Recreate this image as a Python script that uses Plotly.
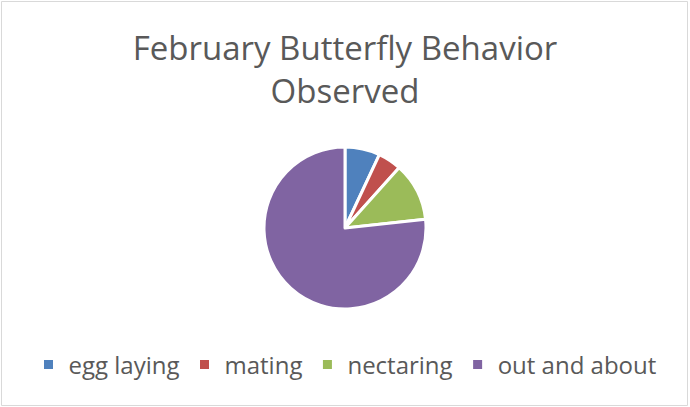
import plotly.graph_objects as go

# counts
behaviors = ["egg laying", "mating", "nectaring", "out and about"]
counts = [3, 2, 5, 33]
colors = ["#4F81BD", "#C0504D", "#9BBB59", "#8064A2"]

W, H = 690, 407

fig = go.Figure()
fig.add_trace(go.Pie(
    labels=behaviors,
    values=counts,
    sort=False,
    direction="clockwise",
    rotation=0,
    textinfo="none",
    hoverinfo="label+value+percent",
    marker=dict(colors=colors, line=dict(color="white", width=3)),
    domain=dict(x=[0, 1], y=[1 - 309 / H, 1 - 147 / H]),
))

fig.update_layout(
    width=W,
    height=H,
    margin=dict(l=0, r=0, t=0, b=0),
    paper_bgcolor="white",
    font=dict(family="Open Sans", color="#595959"),
    title=dict(
        text="February Butterfly Behavior<br>Observed",
        x=0.5,
        xanchor="center",
        y=1 - 60 / H,
        yanchor="middle",
        font=dict(size=33, color="#595959"),
    ),
    legend=dict(
        orientation="h",
        x=0.5,
        xanchor="center",
        y=1 - 365 / H,
        yanchor="middle",
        font=dict(size=24, color="#595959"),
        itemwidth=30,
    ),
    shapes=[dict(
        type="rect", xref="paper", yref="paper",
        x0=1.5 / W, x1=687.5 / W, y0=1 - 405.5 / H, y1=1 - 1.5 / H,
        line=dict(color="#D9D9D9", width=1),
    )],
)

fig.write_html("out.html", config={"displayModeBar": False},
               post_script="document.body.style.margin='0';")
